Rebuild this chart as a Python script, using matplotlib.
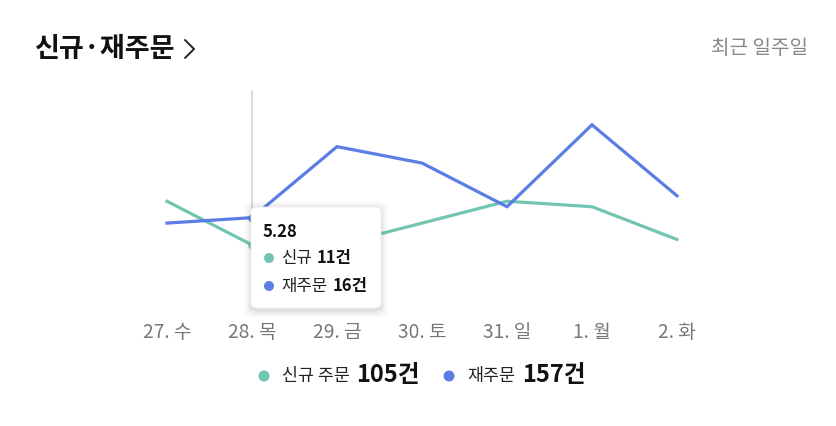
import matplotlib
matplotlib.use("Agg")
import matplotlib.pyplot as plt
from matplotlib.patches import FancyBboxPatch, Ellipse
from matplotlib.lines import Line2D

plt.rcParams['font.family'] = ['Noto Sans CJK KR', 'DejaVu Sans']

# data
days = ['27. 수', '28. 목', '29. 금', '30. 토', '31. 일', '1. 월', '2. 화']
new_orders = [19, 11, 11, 15, 19, 18, 12]
re_orders = [15, 16, 29, 26, 18, 33, 20]
hover_idx = 1
hover_label = '5.28'
total_new = 105
total_re = 157

GREEN = '#72c6b1'
BLUE = '#5a7de6'
W, H = 836, 426


def px(x, y):
    # pixel position -> figure fraction
    return x / W, 1 - y / H


def dot(x, y, r, color, z=3):
    fig.add_artist(Ellipse(px(x, y), 2 * r / W, 2 * r / H,
                           transform=fig.transFigure, fc=color, ec='none',
                           zorder=z))


fig = plt.figure(figsize=(W / 100, H / 100), dpi=100)
fig.patch.set_facecolor('white')

# plot area: first point at x=167, last at x=677, zero at y=305
ax = fig.add_axes([167 / W, 1 - 305 / H, (677 - 167) / W, (305 - 90) / H])
ax.set_xlim(0, len(days) - 1)
ax.set_ylim(0, (305 - 90) / 5.46)
for s in ax.spines.values():
    s.set_visible(False)
ax.set_yticks([])
ax.set_xticks(range(len(days)), days)
ax.tick_params(axis='x', length=0, pad=12, labelsize=13.8, labelcolor='#777777')

ax.axvline(hover_idx, color='#d4d4d4', lw=1.2, zorder=1)
ax.plot(range(len(days)), new_orders, color=GREEN, lw=2.3, clip_on=False,
        solid_joinstyle='miter', zorder=2)
ax.plot(range(len(days)), re_orders, color=BLUE, lw=2.3, clip_on=False,
        solid_joinstyle='miter', zorder=3)
ax.plot([hover_idx], [new_orders[hover_idx]], 'o', color=GREEN, ms=5, zorder=4)
ax.plot([hover_idx], [re_orders[hover_idx]], 'o', color=BLUE, ms=5, zorder=4)

# title
fig.text(*px(35, 49), '신규·재주문', fontsize=19.5, fontweight='bold',
         color='#111111', va='center', ha='left')
fig.add_artist(Line2D([185 / W, 194 / W, 185 / W],
                      [1 - 40 / H, 1 - 49 / H, 1 - 58 / H],
                      color='#222222', lw=1.4, solid_capstyle='round',
                      solid_joinstyle='miter'))
fig.text(*px(808, 49), '최근 일주일', fontsize=14.5, color='#888888',
         va='center', ha='right')

# tooltip
bx, by, bw, bh = 251, 207, 130, 101
for i, a in enumerate([0.045, 0.035, 0.025, 0.015]):
    g = 2 + i * 2
    x0, y0 = px(bx - g + 1, by + bh + g + 2)
    sh = FancyBboxPatch((x0, y0), (bw + 2 * g - 2) / W, (bh + 2 * g) / H,
                        boxstyle='round,pad=0,rounding_size=0.012',
                        transform=fig.transFigure, fc='black', ec='none',
                        alpha=a, zorder=5)
    fig.add_artist(sh)
x0, y0 = px(bx, by + bh)
box = FancyBboxPatch((x0, y0), bw / W, bh / H,
                     boxstyle='round,pad=0,rounding_size=0.01',
                     transform=fig.transFigure, fc='white', ec='#eeeeee',
                     lw=0.6, zorder=6)
fig.add_artist(box)
fig.text(*px(263, 232), hover_label, fontsize=12, fontweight='bold',
         color='#111111', va='center', ha='left', zorder=7)
dot(269, 258, 5, GREEN, 7)
fig.text(*px(281, 258), '신규', fontsize=12, color='#222222',
         va='center', ha='left', zorder=7)
fig.text(*px(317, 258), f'{new_orders[hover_idx]}건', fontsize=12,
         fontweight='bold', color='#111111', va='center', ha='left', zorder=7)
dot(269, 286, 5, BLUE, 7)
fig.text(*px(281, 286), '재주문', fontsize=12, color='#222222',
         va='center', ha='left', zorder=7)
fig.text(*px(333, 286), f'{re_orders[hover_idx]}건', fontsize=12,
         fontweight='bold', color='#111111', va='center', ha='left', zorder=7)

# legend
dot(264, 376, 5.5, GREEN)
fig.text(*px(282, 376), '신규 주문', fontsize=12.5, color='#222222',
         va='center', ha='left')
fig.text(*px(356, 375), f'{total_new}건', fontsize=17, fontweight='bold',
         color='#111111', va='center', ha='left')
dot(449, 376, 5.5, BLUE)
fig.text(*px(467, 376), '재주문', fontsize=12.5, color='#222222',
         va='center', ha='left')
fig.text(*px(522, 375), f'{total_re}건', fontsize=17, fontweight='bold',
         color='#111111', va='center', ha='left')

fig.savefig('out.png', dpi=100, facecolor='white')
